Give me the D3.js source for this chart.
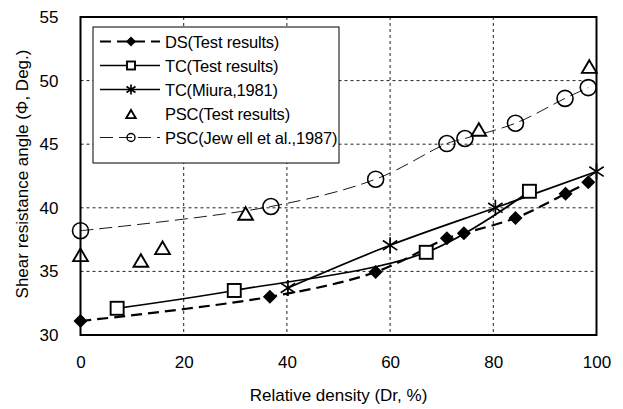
<!DOCTYPE html>
<html>
<head>
<meta charset="utf-8">
<script src="https://cdn.jsdelivr.net/npm/d3@7/dist/d3.min.js"></script>
<style>
  html, body { margin: 0; padding: 0; background: #fff; }
  svg { display: block; font-family: "Liberation Sans", Arial, sans-serif; }
</style>
</head>
<body>
<svg id="chart" width="623" height="409"></svg>
<script>
// Shear resistance angle vs relative density
const xTicks = [0, 20, 40, 60, 80, 100];
const yTicks = [30, 35, 40, 45, 50, 55];

// DS (test results)
const dsDr  = [0, 36.7, 57.2, 71.0, 74.3, 84.3, 94.0, 98.4];
const dsPhi = [31.1, 33.0, 34.95, 37.6, 38.0, 39.2, 41.1, 42.0];

// TC (test results)
const tcDr  = [7.1, 29.8, 67.0, 87.0];
const tcPhi = [32.1, 33.5, 36.5, 41.3];

// TC (Miura, 1981)
const miuraDr  = [40.2, 60.0, 80.4, 100];
const miuraPhi = [33.7, 37.05, 40.0, 42.85];

// PSC (test results)
const pscDr  = [0, 11.7, 15.9, 32.0, 77.2, 98.6];
const pscPhi = [36.25, 35.8, 36.8, 39.5, 46.1, 51.05];

// PSC (Jewell et al., 1987)
const jewDr  = [0, 36.9, 57.2, 71.0, 74.5, 84.3, 93.9, 98.4];
const jewPhi = [38.2, 40.1, 42.25, 45.05, 45.45, 46.65, 48.6, 49.45];

const legendLabels = [
  "DS(Test results)",
  "TC(Test results)",
  "TC(Miura,1981)",
  "PSC(Test results)",
  "PSC(Jew ell et al.,1987)"
];

const svg = d3.select("#chart");
const pLeft = 80.5, pRight = 596.5, pTop = 17, pBottom = 335;

const x = d3.scaleLinear().domain([0, 100]).range([pLeft, pRight]);
const y = d3.scaleLinear().domain([30, 55]).range([pBottom, pTop]);

const zip = (a, b) => a.map((v, i) => [v, b[i]]);

// grid
const grid = svg.append("g");
grid.selectAll("line.v").data(xTicks.slice(1, -1)).enter().append("line")
  .attr("x1", d => x(d)).attr("x2", d => x(d))
  .attr("y1", pTop).attr("y2", pBottom)
  .attr("stroke", "#222").attr("stroke-width", 1).attr("stroke-dasharray", "3,3");
grid.selectAll("line.h").data(yTicks.slice(1, -1)).enter().append("line")
  .attr("y1", d => y(d)).attr("y2", d => y(d))
  .attr("x1", pLeft).attr("x2", pRight)
  .attr("stroke", "#222").attr("stroke-width", 1).attr("stroke-dasharray", "3,3");

// axes (labels only, frame drawn separately)
const xAxis = d3.axisBottom(x).tickValues(xTicks).tickSize(0).tickPadding(21);
const yAxis = d3.axisLeft(y).tickValues(yTicks).tickSize(0).tickPadding(22);
const gx = svg.append("g").attr("transform", `translate(0,${pBottom})`).call(xAxis);
const gy = svg.append("g").attr("transform", `translate(${pLeft},0)`).call(yAxis);
[gx, gy].forEach(g => {
  g.select(".domain").remove();
  g.selectAll("text").attr("font-size", 17).attr("fill", "#000")
    .attr("font-family", "'Liberation Sans', Arial, sans-serif");
});

// curves
const line = d3.line().x(d => x(d[0])).y(d => y(d[1])).curve(d3.curveCatmullRom.alpha(0.5));
const plot = svg.append("g");

plot.append("path").datum(zip(jewDr, jewPhi)).attr("d", line)
  .attr("fill", "none").attr("stroke", "#000").attr("stroke-width", 0.9).attr("stroke-dasharray", "13,6");
plot.append("path").datum(zip(tcDr, tcPhi)).attr("d", line)
  .attr("fill", "none").attr("stroke", "#000").attr("stroke-width", 1.7);
plot.append("path").datum(zip(miuraDr, miuraPhi)).attr("d", line)
  .attr("fill", "none").attr("stroke", "#000").attr("stroke-width", 1.7);
plot.append("path").datum(zip(dsDr, dsPhi)).attr("d", line)
  .attr("fill", "none").attr("stroke", "#000").attr("stroke-width", 2.2).attr("stroke-dasharray", "11,6");

// marker shapes
function diamond(g, cx, cy, s) {
  g.append("path").attr("d", `M${cx},${cy - s}L${cx + s},${cy}L${cx},${cy + s}L${cx - s},${cy}Z`)
    .attr("fill", "#000");
}
function square(g, cx, cy, s) {
  g.append("rect").attr("x", cx - s).attr("y", cy - s).attr("width", 2 * s).attr("height", 2 * s)
    .attr("fill", "#fff").attr("stroke", "#000").attr("stroke-width", 1.9);
}
function star(g, cx, cy, s) {
  const dx = s * 0.9, dy = s * 0.6;
  g.append("path")
    .attr("d", `M${cx},${cy - s}L${cx},${cy + s}M${cx - dx},${cy - dy}L${cx + dx},${cy + dy}M${cx - dx},${cy + dy}L${cx + dx},${cy - dy}`)
    .attr("stroke", "#000").attr("stroke-width", 1.7).attr("fill", "none");
}
function triangle(g, cx, cy, s) {
  g.append("path").attr("d", `M${cx},${cy - s}L${cx + s * 1.05},${cy + s * 0.8}L${cx - s * 1.05},${cy + s * 0.8}Z`)
    .attr("fill", "#fff").attr("stroke", "#000").attr("stroke-width", 1.9);
}
function circle(g, cx, cy, r, w) {
  g.append("circle").attr("cx", cx).attr("cy", cy).attr("r", r)
    .attr("fill", "none").attr("stroke", "#000").attr("stroke-width", w);
}

const marks = svg.append("g");
jewDr.forEach((d, i) => circle(marks, x(d), y(jewPhi[i]), 8, 1.6));
pscDr.forEach((d, i) => triangle(marks, x(d), y(pscPhi[i]), 7));
tcDr.forEach((d, i) => square(marks, x(d), y(tcPhi[i]), 6.5));
miuraDr.forEach((d, i) => star(marks, x(d), y(miuraPhi[i]), 8));
dsDr.forEach((d, i) => diamond(marks, x(d), y(dsPhi[i]), 7));

// frame
svg.append("rect").attr("x", pLeft).attr("y", pTop).attr("width", pRight - pLeft).attr("height", pBottom - pTop)
  .attr("fill", "none").attr("stroke", "#000").attr("stroke-width", 2);

// axis titles
svg.append("text").attr("x", (pLeft + pRight) / 2).attr("y", 401).attr("text-anchor", "middle")
  .attr("font-size", 17).text("Relative density (Dr, %)");
svg.append("text").attr("transform", "translate(28,174) rotate(-90)").attr("text-anchor", "middle")
  .attr("font-size", 17).text("Shear resistance angle (\u03A6, Deg.)");

// legend
const lg = svg.append("g");
lg.append("rect").attr("x", 93).attr("y", 27).attr("width", 246).attr("height", 136)
  .attr("fill", "#fff").attr("stroke", "#000").attr("stroke-width", 1);
const rowY = i => 41.5 + i * 24;
const lx0 = 100, lx1 = 160, lm = 131;
const styles = [
  {w: 2.2, dash: "11,6"},
  {w: 1.7, dash: null},
  {w: 1.7, dash: null},
  null,
  {w: 0.9, dash: "13,6"}
];
legendLabels.forEach((lab, i) => {
  const cy = rowY(i);
  const st = styles[i];
  if (st) {
    const ln = lg.append("line").attr("x1", lx0).attr("x2", lx1).attr("y1", cy).attr("y2", cy)
      .attr("stroke", "#000").attr("stroke-width", st.w);
    if (st.dash) ln.attr("stroke-dasharray", st.dash);
  }
  if (i === 0) diamond(lg, lm, cy, 5);
  if (i === 1) square(lg, lm, cy, 4);
  if (i === 2) star(lg, lm, cy, 5);
  if (i === 3) triangle(lg, lm, cy + 1, 4.5);
  if (i === 4) circle(lg, lm, cy, 4, 1.4);
  lg.append("text").attr("x", 165).attr("y", cy + 6).attr("font-size", 16.5)
    .attr("letter-spacing", -0.2).text(lab);
});
</script>
</body>
</html>
